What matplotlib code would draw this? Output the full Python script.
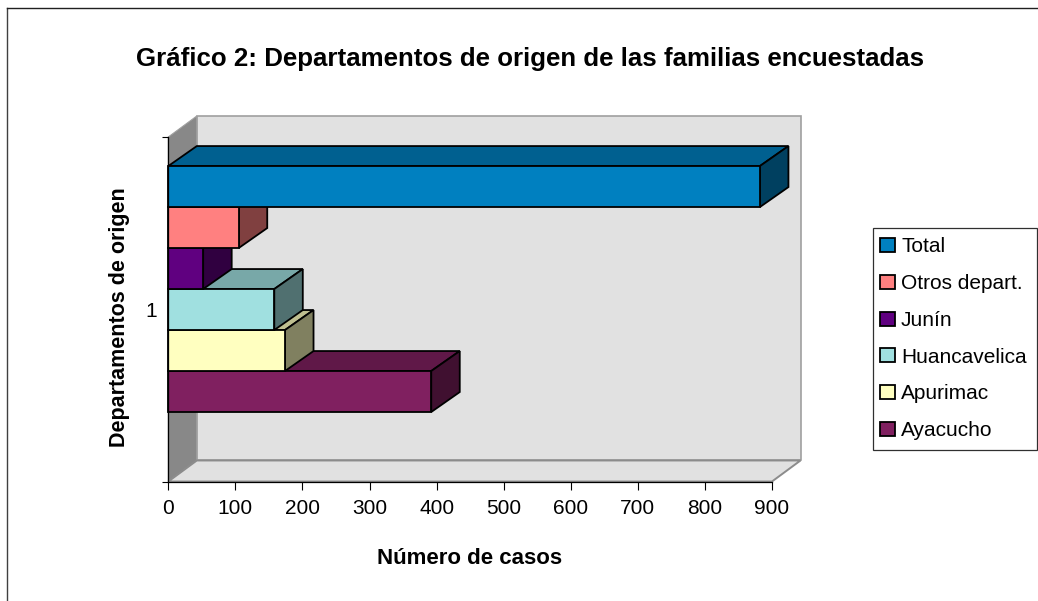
#!/usr/bin/env python3
import matplotlib
matplotlib.use("Agg")
import matplotlib.pyplot as plt
from matplotlib.legend_handler import HandlerPatch
from matplotlib.lines import Line2D
from matplotlib.patches import Polygon, Rectangle

plt.rcParams["font.family"] = ["Liberation Sans", "DejaVu Sans"]

# Data, front to back as drawn (Ayacucho at the bottom)
departments = ["Ayacucho", "Apurimac", "Huancavelica", "Junín", "Otros depart.", "Total"]
cases = [392, 174, 158, 52, 105, 882]
x_ticks = [0, 100, 200, 300, 400, 500, 600, 700, 800, 900]

title = "Gráfico 2: Departamentos de origen de las familias encuestadas"
x_label = "Número de casos"
y_label = "Departamentos de origen"

# front, top and side colours of each bar
front_colors = ["#802060", "#FFFFC0", "#A0E0E0", "#600080", "#FF8080", "#0080C0"]
top_colors = ["#601848", "#BFBF90", "#78A8A8", "#480060", "#BF6060", "#006090"]
side_colors = ["#401030", "#808060", "#507070", "#300040", "#804040", "#004060"]

W, H = 1038, 601
X0, X1 = 168.3, 772.0   # pixel position of 0 and 900
Y0, Y1 = 481.5, 137.0   # pixel position of the category axis ends

# depth of the fake 3D box, in data units
wall_dx, wall_dy = 42.5, 0.061
bar_dx, bar_dy = 42.5, 0.058
bar_h = 0.119
bar_base = 0.2017


def add_poly(ax, pts, fc, ec="black", lw=1.3, z=2):
    ax.add_patch(Polygon(pts, closed=True, facecolor=fc, edgecolor=ec, linewidth=lw,
                         joinstyle="miter", clip_on=False, zorder=z))


fig = plt.figure(figsize=(W / 100, H / 100), dpi=100, facecolor="white")
ax = fig.add_axes([X0 / W, 1 - Y0 / H, (X1 - X0) / W, (Y0 - Y1) / H])
ax.set_xlim(0, 900)
ax.set_ylim(0, 1)
ax.patch.set_visible(False)

# chart border, only left and top are in the picture
fig.add_artist(Line2D([7 / W, 7 / W], [0, 1 - 8 / H], color="#404040", lw=1.0))
fig.add_artist(Line2D([7 / W, 1], [1 - 8 / H, 1 - 8 / H], color="#202020", lw=1.0))

# walls and floor
add_poly(ax, [(wall_dx, wall_dy), (900 + wall_dx, wall_dy), (900 + wall_dx, 1 + wall_dy),
              (wall_dx, 1 + wall_dy)], "#E1E1E1", ec="#A0A0A0", lw=1.2, z=1)
add_poly(ax, [(0, 0), (wall_dx, wall_dy), (wall_dx, 1 + wall_dy), (0, 1)],
         "#888888", ec="#A0A0A0", lw=0.8, z=1)
add_poly(ax, [(0, 0), (900, 0), (900 + wall_dx, wall_dy), (wall_dx, wall_dy)],
         "#E1E1E1", ec="#8C8C8C", lw=1.4, z=1)

for i, v in enumerate(cases):
    b = bar_base + i * bar_h
    t = b + bar_h
    z = 2 + i
    add_poly(ax, [(0, t), (v, t), (v + bar_dx, t + bar_dy), (bar_dx, t + bar_dy)], top_colors[i], z=z)
    add_poly(ax, [(v, b), (v + bar_dx, b + bar_dy), (v + bar_dx, t + bar_dy), (v, t)], side_colors[i], z=z)
    add_poly(ax, [(0, b), (v, b), (v, t), (0, t)], front_colors[i], z=z)

for s in ["top", "right"]:
    ax.spines[s].set_visible(False)
for s in ["left", "bottom"]:
    ax.spines[s].set_linewidth(0.9)
    ax.spines[s].set_zorder(20)

ax.set_xticks(x_ticks)
ax.set_yticks([0, 1], ["", ""])
ax.set_yticks([0.5], ["1"], minor=True)
ax.tick_params(axis="x", length=5.5, width=0.8, labelsize=15, pad=7)
ax.tick_params(axis="y", which="major", length=4.5, width=0.8)
ax.tick_params(axis="y", which="minor", length=0, labelsize=15, pad=8)

fig.text(529.5 / W, 1 - 59 / H, title, ha="center", va="center", fontsize=18.65, fontweight="bold")
fig.text(470 / W, 1 - 559 / H, x_label, ha="center", va="center", fontsize=16, fontweight="bold")
fig.text(120 / W, 1 - 317 / H, y_label, ha="center", va="center", rotation=90,
         fontsize=15.5, fontweight="bold")

handles = [Rectangle((0, 0), 1, 1, facecolor=front_colors[i], edgecolor="black", linewidth=1.3)
           for i in reversed(range(len(cases)))]
leg = fig.legend(handles, list(reversed(departments)), loc="upper left",
                 bbox_to_anchor=(873 / W, 1 - 227.5 / H), bbox_transform=fig.transFigure,
                 fontsize=15, frameon=True, fancybox=False, framealpha=1, edgecolor="#303030",
                 handlelength=0.576, handleheight=0.67, handletextpad=0.29, labelspacing=0.85,
                 borderpad=0.48, borderaxespad=0, handler_map={Rectangle: HandlerPatch(xpad=-0.145)})
leg.get_frame().set_linewidth(0.9)

fig.savefig("out.png", dpi=100)
